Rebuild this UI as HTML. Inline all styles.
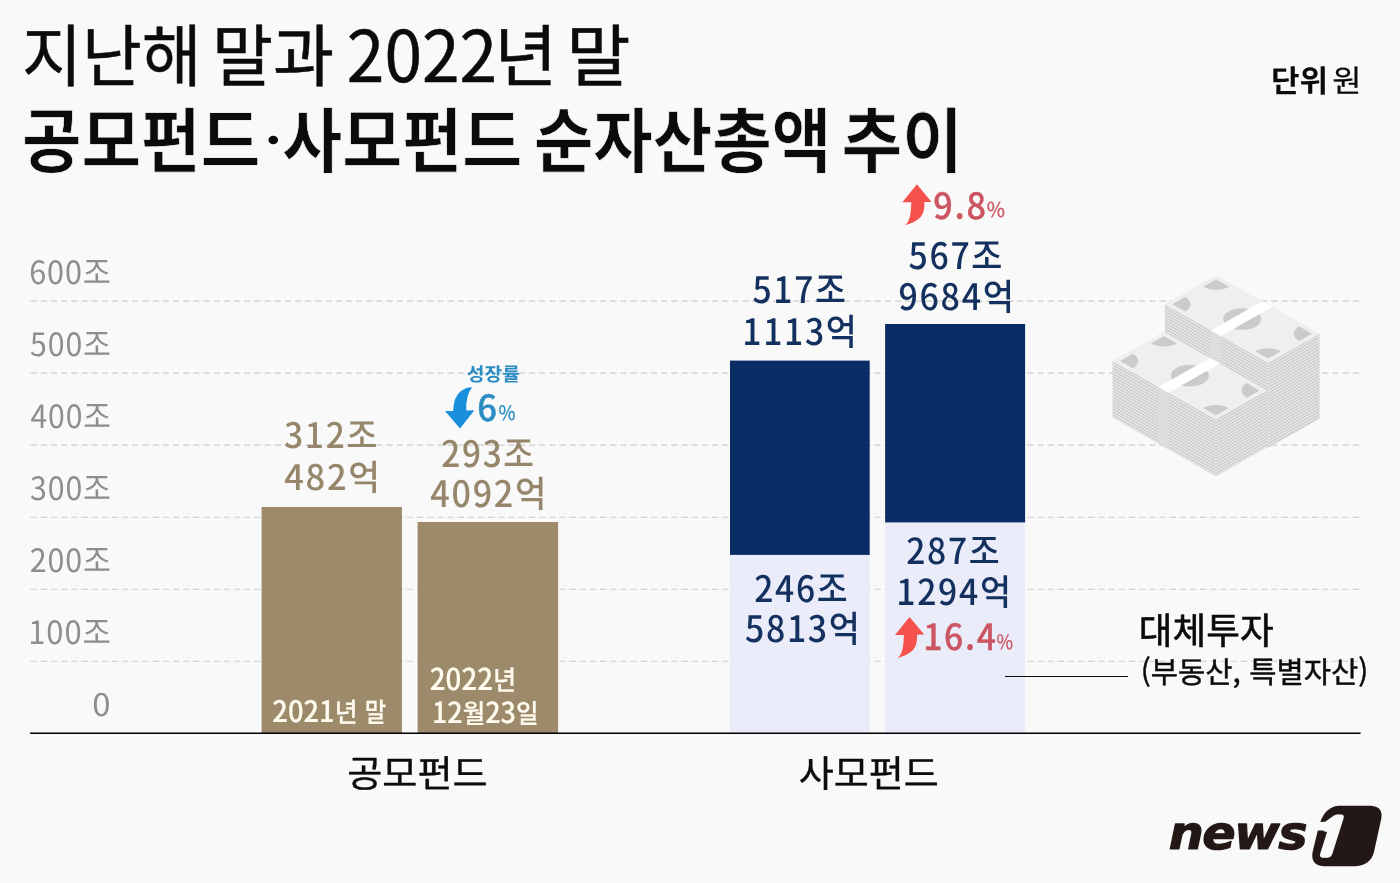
<!DOCTYPE html>
<html lang="ko"><head><meta charset="utf-8"><title>공모펀드·사모펀드 순자산총액 추이</title>
<style>
html,body{margin:0;padding:0;background:#f9f9f9;}
body{width:1400px;height:883px;overflow:hidden;font-family:"Liberation Sans","Noto Sans CJK KR",sans-serif;}
svg{display:block;}
</style></head><body>
<svg width="1400" height="883" viewBox="0 0 1400 883" role="img" aria-label="공모펀드·사모펀드 순자산총액 추이">
<line x1="30.5" y1="301.1" x2="1360" y2="301.1" stroke="#cdcdcd" stroke-width="1.1" stroke-dasharray="6.4 3.77"/>
<line x1="30.5" y1="373.1" x2="1360" y2="373.1" stroke="#cdcdcd" stroke-width="1.1" stroke-dasharray="6.4 3.77"/>
<line x1="30.5" y1="445.15" x2="1360" y2="445.15" stroke="#cdcdcd" stroke-width="1.1" stroke-dasharray="6.4 3.77"/>
<line x1="30.5" y1="517.2" x2="1360" y2="517.2" stroke="#cdcdcd" stroke-width="1.1" stroke-dasharray="6.4 3.77"/>
<line x1="30.5" y1="589.2" x2="1360" y2="589.2" stroke="#cdcdcd" stroke-width="1.1" stroke-dasharray="6.4 3.77"/>
<line x1="30.5" y1="661.2" x2="1360" y2="661.2" stroke="#cdcdcd" stroke-width="1.1" stroke-dasharray="6.4 3.77"/>
<defs><pattern id="stripe" width="8" height="2.95" patternUnits="userSpaceOnUse"><rect width="8" height="2.95" fill="#eeeeee"/><rect y="0.1" width="8" height="1.4" fill="#c3c3c3"/></pattern><clipPath id="inner"><rect x="4.4" y="4.4" width="111.2" height="51.2"/></clipPath></defs><g transform="matrix(0.8617 0.4883 0 1 1164.8 304.3)"><rect x="0" y="0" width="120" height="85" fill="url(#stripe)"/><rect x="53.5" y="0" width="11.5" height="85" fill="#dddddd"/></g><g transform="matrix(0.8567 -0.4867 0 1 1268.20 362.90)"><rect x="0" y="0" width="60" height="85" fill="url(#stripe)"/></g><g transform="matrix(0.8617 0.4883 0.8567 -0.4867 1164.8 304.3)"><rect x="0" y="0" width="120" height="60" fill="#efefef"/><g clip-path="url(#inner)" fill="#cbcbcb"><circle cx="4.4" cy="4.4" r="15"/><circle cx="115.6" cy="4.4" r="15"/><circle cx="4.4" cy="55.6" r="15"/><circle cx="115.6" cy="55.6" r="15"/><circle cx="60" cy="30" r="15.7"/></g><rect x="53.5" y="0" width="11.5" height="60" fill="#ffffff"/></g><g transform="matrix(0.8617 0.4883 0 1 1112.5 361.0)"><rect x="0" y="0" width="120" height="56.6" fill="url(#stripe)"/><rect x="53.5" y="0" width="11.5" height="56.6" fill="#dddddd"/></g><g transform="matrix(0.8567 -0.4867 0 1 1215.90 419.60)"><rect x="0" y="0" width="60" height="56.6" fill="url(#stripe)"/></g><g transform="matrix(0.8617 0.4883 0.8567 -0.4867 1112.5 361.0)"><rect x="0" y="0" width="120" height="60" fill="#efefef"/><g clip-path="url(#inner)" fill="#cbcbcb"><circle cx="4.4" cy="4.4" r="15"/><circle cx="115.6" cy="4.4" r="15"/><circle cx="4.4" cy="55.6" r="15"/><circle cx="115.6" cy="55.6" r="15"/><circle cx="60" cy="30" r="15.7"/></g><rect x="53.5" y="0" width="11.5" height="60" fill="#ffffff"/></g>
<rect x="261.6" y="507" width="140.3" height="226.3" fill="#9c8a6b"/>
<rect x="417.6" y="522" width="140.5" height="211.3" fill="#9c8a6b"/>
<rect x="730" y="554.5" width="139.7" height="178.8" fill="#eaecf9"/>
<rect x="730" y="360.6" width="139.7" height="194.3" fill="#0a2d66"/>
<rect x="885.1" y="522" width="140" height="211.3" fill="#eaecf9"/>
<rect x="885.1" y="324" width="140" height="198.4" fill="#0a2d66"/>
<line x1="30.1" y1="733.3" x2="1360.6" y2="733.3" stroke="#000" stroke-width="1.4"/>
<line x1="1005" y1="676.55" x2="1127.9" y2="676.55" stroke="#0a0a0a" stroke-width="1.1"/>
<path fill="#f5514d" d="M916.9 184.3 L931.6 201.9 L924.4 202.1 C924.7 212.3 922.9 220.8 904.9 225.2 C909.9 221.3 910.9 214.3 911.3 202.2 L902.4 202.2 Z"/>
<path fill="#f5514d" d="M909.5 617.0 L924.2 634.6 L917.0 634.8 C917.3 645.0 915.5 653.5 897.5 657.9 C902.5 654.0 903.5 647.0 903.9 634.9 L895.0 634.9 Z"/>
<path fill="#1a90dc" d="M460 428.5 L445 411 L453.2 411 Q453.5 391.5 468.3 387.5 L472 387.3 Q465.5 396 466.3 410.5 L474.4 410.3 Z"/>
<path fill="#231815" d="M1338.5 805.7 L1371 805.7 Q1383.5 806.5 1381.2 819 L1374 852 Q1370.5 865.5 1355.5 866.2 L1323.5 866.2 Q1310.5 865 1312.5 852.5 L1317.8 830.5 L1327.5 830.5 L1329.5 821.5 L1320.3 822 Q1325.5 807 1338.5 805.7 Z"/>
<text transform="translate(22.00 81.00) scale(0.9588 1)" font-size="67.95" fill="#0b0b0b" font-family='"Noto Sans CJK KR","Liberation Sans",sans-serif' font-weight="400" text-rendering="geometricPrecision" stroke="#0b0b0b" stroke-width="0.5" stroke-linejoin="round">지난해</text>
<text transform="translate(211.90 81.00) scale(0.9770 1)" font-size="67.95" fill="#0b0b0b" font-family='"Noto Sans CJK KR","Liberation Sans",sans-serif' font-weight="400" text-rendering="geometricPrecision" stroke="#0b0b0b" stroke-width="0.5" stroke-linejoin="round">말과</text>
<text transform="translate(494.35 81.00) scale(1.0082 1)" font-size="67.95" fill="#0b0b0b" font-family='"Noto Sans CJK KR","Liberation Sans",sans-serif' font-weight="400" text-rendering="geometricPrecision" stroke="#0b0b0b" stroke-width="0.5" stroke-linejoin="round">년</text>
<text transform="translate(566.35 81.00) scale(1.0283 1)" font-size="67.95" fill="#0b0b0b" font-family='"Noto Sans CJK KR","Liberation Sans",sans-serif' font-weight="400" text-rendering="geometricPrecision" stroke="#0b0b0b" stroke-width="0.5" stroke-linejoin="round">말</text>
<text transform="translate(346.80 81.65) scale(0.9529 1)" font-size="71.09" fill="#0b0b0b" font-family='"Noto Sans CJK KR","Liberation Sans",sans-serif' font-weight="400" text-rendering="geometricPrecision" stroke="#0b0b0b" stroke-width="0.5" stroke-linejoin="round">2022</text>
<text transform="translate(22.00 167.20) scale(0.9075 1)" font-size="71.34" fill="#0b0b0b" font-family='"Noto Sans CJK KR","Liberation Sans",sans-serif' font-weight="700" text-rendering="geometricPrecision" stroke="#f9f9f9" stroke-width="0.7" stroke-linejoin="round">공모펀드</text>
<text transform="translate(282.30 167.20) scale(0.9144 1)" font-size="71.34" fill="#0b0b0b" font-family='"Noto Sans CJK KR","Liberation Sans",sans-serif' font-weight="700" text-rendering="geometricPrecision" stroke="#f9f9f9" stroke-width="0.7" stroke-linejoin="round">사모펀드</text>
<text transform="translate(533.90 167.20) scale(0.9061 1)" font-size="71.34" fill="#0b0b0b" font-family='"Noto Sans CJK KR","Liberation Sans",sans-serif' font-weight="700" text-rendering="geometricPrecision" stroke="#f9f9f9" stroke-width="0.7" stroke-linejoin="round">순자산총액</text>
<text transform="translate(841.60 167.20) scale(0.9244 1)" font-size="71.34" fill="#0b0b0b" font-family='"Noto Sans CJK KR","Liberation Sans",sans-serif' font-weight="700" text-rendering="geometricPrecision" stroke="#f9f9f9" stroke-width="0.7" stroke-linejoin="round">추이</text>
<text transform="translate(264.85 156.65) scale(1.1663 1)" font-size="44.83" fill="#0b0b0b" font-family='"Noto Sans CJK KR","Liberation Sans",sans-serif' font-weight="700" text-rendering="geometricPrecision">·</text>
<text transform="translate(1270.95 91.95) scale(1.0049 1)" font-size="30.87" fill="#0b0b0b" font-family='"Noto Sans CJK KR","Liberation Sans",sans-serif' font-weight="700" text-rendering="geometricPrecision">단위</text>
<text transform="translate(1332.35 91.95) scale(1.0271 1)" font-size="30.87" fill="#0b0b0b" font-family='"Noto Sans CJK KR","Liberation Sans",sans-serif' font-weight="400" text-rendering="geometricPrecision" stroke="#0b0b0b" stroke-width="0.25" stroke-linejoin="round">원</text>
<text transform="translate(29.25 284.00) scale(0.9529 1)" font-size="32.07" fill="#8e8e8e" font-family='"Noto Sans CJK KR","Liberation Sans",sans-serif' font-weight="400" text-rendering="geometricPrecision" letter-spacing="0.03em">600조</text>
<text transform="translate(30.00 356.00) scale(0.9437 1)" font-size="32.07" fill="#8e8e8e" font-family='"Noto Sans CJK KR","Liberation Sans",sans-serif' font-weight="400" text-rendering="geometricPrecision" letter-spacing="0.03em">500조</text>
<text transform="translate(30.50 428.00) scale(0.9392 1)" font-size="32.07" fill="#8e8e8e" font-family='"Noto Sans CJK KR","Liberation Sans",sans-serif' font-weight="400" text-rendering="geometricPrecision" letter-spacing="0.03em">400조</text>
<text transform="translate(30.00 500.00) scale(0.9437 1)" font-size="32.07" fill="#8e8e8e" font-family='"Noto Sans CJK KR","Liberation Sans",sans-serif' font-weight="400" text-rendering="geometricPrecision" letter-spacing="0.03em">300조</text>
<text transform="translate(29.75 572.00) scale(0.9483 1)" font-size="32.07" fill="#8e8e8e" font-family='"Noto Sans CJK KR","Liberation Sans",sans-serif' font-weight="400" text-rendering="geometricPrecision" letter-spacing="0.03em">200조</text>
<text transform="translate(28.25 644.00) scale(0.9647 1)" font-size="32.07" fill="#8e8e8e" font-family='"Noto Sans CJK KR","Liberation Sans",sans-serif' font-weight="400" text-rendering="geometricPrecision" letter-spacing="0.03em">100조</text>
<text transform="translate(92.25 716.25) scale(1.0583 1)" font-size="31.07" fill="#8e8e8e" font-family='"Noto Sans CJK KR","Liberation Sans",sans-serif' font-weight="400" text-rendering="geometricPrecision">0</text>
<text transform="translate(284.00 448.25) scale(0.9570 1)" font-size="35.12" fill="#96876c" font-family='"Noto Sans CJK KR","Liberation Sans",sans-serif' font-weight="500" text-rendering="geometricPrecision" letter-spacing="0.05em">312조</text>
<text transform="translate(284.25 489.50) scale(0.9811 1)" font-size="35.12" fill="#96876c" font-family='"Noto Sans CJK KR","Liberation Sans",sans-serif' font-weight="500" text-rendering="geometricPrecision" letter-spacing="0.05em">482억</text>
<text transform="translate(441.25 466.50) scale(0.9173 1)" font-size="36.42" fill="#96876c" font-family='"Noto Sans CJK KR","Liberation Sans",sans-serif' font-weight="500" text-rendering="geometricPrecision" letter-spacing="0.05em">293조</text>
<text transform="translate(430.25 507.00) scale(0.9389 1)" font-size="36.42" fill="#96876c" font-family='"Noto Sans CJK KR","Liberation Sans",sans-serif' font-weight="500" text-rendering="geometricPrecision" letter-spacing="0.05em">4092억</text>
<text transform="translate(752.50 303.30) scale(0.9239 1)" font-size="36.36" fill="#13305f" font-family='"Noto Sans CJK KR","Liberation Sans",sans-serif' font-weight="500" text-rendering="geometricPrecision" letter-spacing="0.05em">517조</text>
<text transform="translate(742.25 345.00) scale(0.9266 1)" font-size="36.36" fill="#13305f" font-family='"Noto Sans CJK KR","Liberation Sans",sans-serif' font-weight="500" text-rendering="geometricPrecision" letter-spacing="0.05em">1113억</text>
<text transform="translate(908.50 268.50) scale(0.9279 1)" font-size="36.42" fill="#13305f" font-family='"Noto Sans CJK KR","Liberation Sans",sans-serif' font-weight="500" text-rendering="geometricPrecision" letter-spacing="0.05em">567조</text>
<text transform="translate(898.50 310.00) scale(0.9322 1)" font-size="36.42" fill="#13305f" font-family='"Noto Sans CJK KR","Liberation Sans",sans-serif' font-weight="500" text-rendering="geometricPrecision" letter-spacing="0.05em">9684억</text>
<text transform="translate(754.25 601.50) scale(0.9224 1)" font-size="36.42" fill="#13305f" font-family='"Noto Sans CJK KR","Liberation Sans",sans-serif' font-weight="500" text-rendering="geometricPrecision" letter-spacing="0.05em">246조</text>
<text transform="translate(745.00 642.00) scale(0.9283 1)" font-size="36.42" fill="#13305f" font-family='"Noto Sans CJK KR","Liberation Sans",sans-serif' font-weight="500" text-rendering="geometricPrecision" letter-spacing="0.05em">5813억</text>
<text transform="translate(906.25 564.00) scale(0.9392 1)" font-size="35.77" fill="#13305f" font-family='"Noto Sans CJK KR","Liberation Sans",sans-serif' font-weight="500" text-rendering="geometricPrecision" letter-spacing="0.05em">287조</text>
<text transform="translate(896.25 605.00) scale(0.9432 1)" font-size="35.77" fill="#13305f" font-family='"Noto Sans CJK KR","Liberation Sans",sans-serif' font-weight="500" text-rendering="geometricPrecision" letter-spacing="0.05em">1294억</text>
<text transform="translate(272.30 721.95) scale(0.9277 1)" font-size="26.83" fill="#fffbee" font-family='"Noto Sans CJK KR","Liberation Sans",sans-serif' font-weight="500" text-rendering="geometricPrecision" stroke="#fffbee" stroke-width="0.2" stroke-linejoin="round"><tspan font-size="110%">2021</tspan>년</text>
<text transform="translate(364.75 721.95) scale(0.8683 1)" font-size="26.83" fill="#fffbee" font-family='"Noto Sans CJK KR","Liberation Sans",sans-serif' font-weight="500" text-rendering="geometricPrecision" stroke="#fffbee" stroke-width="0.2" stroke-linejoin="round">말</text>
<text transform="translate(429.80 690.35) scale(0.9256 1)" font-size="27.22" fill="#fffbee" font-family='"Noto Sans CJK KR","Liberation Sans",sans-serif' font-weight="500" text-rendering="geometricPrecision" stroke="#fffbee" stroke-width="0.2" stroke-linejoin="round"><tspan font-size="110%">2022</tspan>년</text>
<text transform="translate(431.95 723.30) scale(0.9296 1)" font-size="26.37" fill="#fffbee" font-family='"Noto Sans CJK KR","Liberation Sans",sans-serif' font-weight="500" text-rendering="geometricPrecision" stroke="#fffbee" stroke-width="0.2" stroke-linejoin="round"><tspan font-size="110%">12</tspan>월<tspan font-size="110%">23</tspan>일</text>
<text transform="translate(466.75 380.75) scale(1.0178 1)" font-size="18.92" fill="#2b8cc4" font-family='"Noto Sans CJK KR","Liberation Sans",sans-serif' font-weight="700" text-rendering="geometricPrecision">성장률</text>
<text transform="translate(477.25 421.25) scale(0.9577 1)" font-size="36.13" fill="#2b8cc4" font-family='"Noto Sans CJK KR","Liberation Sans",sans-serif' font-weight="500" text-rendering="geometricPrecision" stroke="#2b8cc4" stroke-width="0.4" stroke-linejoin="round">6</text>
<text transform="translate(498.50 420.10) scale(0.9250 1)" font-size="20.04" fill="#2b8cc4" font-family='"Noto Sans CJK KR","Liberation Sans",sans-serif' font-weight="400" text-rendering="geometricPrecision" stroke="#2b8cc4" stroke-width="0.3" stroke-linejoin="round">%</text>
<text transform="translate(933.35 218.75) scale(0.9485 1)" font-size="36.13" fill="#cb5562" font-family='"Noto Sans CJK KR","Liberation Sans",sans-serif' font-weight="500" text-rendering="geometricPrecision" letter-spacing="0.05em" stroke="#cb5562" stroke-width="0.35" stroke-linejoin="round">9.8</text>
<text transform="translate(986.75 217.00) scale(0.9646 1)" font-size="20.49" fill="#cb5562" font-family='"Noto Sans CJK KR","Liberation Sans",sans-serif' font-weight="400" text-rendering="geometricPrecision" stroke="#cb5562" stroke-width="0.3" stroke-linejoin="round">%</text>
<text transform="translate(923.25 650.25) scale(0.9316 1)" font-size="36.13" fill="#cb5562" font-family='"Noto Sans CJK KR","Liberation Sans",sans-serif' font-weight="500" text-rendering="geometricPrecision" letter-spacing="0.05em" stroke="#cb5562" stroke-width="0.35" stroke-linejoin="round">16.4</text>
<text transform="translate(996.50 649.00) scale(0.9044 1)" font-size="19.84" fill="#cb5562" font-family='"Noto Sans CJK KR","Liberation Sans",sans-serif' font-weight="400" text-rendering="geometricPrecision" stroke="#cb5562" stroke-width="0.3" stroke-linejoin="round">%</text>
<text transform="translate(347.25 787.00) scale(1.0249 1)" font-size="37.26" fill="#0b0b0b" font-family='"Noto Sans CJK KR","Liberation Sans",sans-serif' font-weight="400" text-rendering="geometricPrecision" stroke="#0b0b0b" stroke-width="0.4" stroke-linejoin="round">공모펀드</text>
<text transform="translate(798.75 787.00) scale(1.0213 1)" font-size="37.26" fill="#0b0b0b" font-family='"Noto Sans CJK KR","Liberation Sans",sans-serif' font-weight="400" text-rendering="geometricPrecision" stroke="#0b0b0b" stroke-width="0.4" stroke-linejoin="round">사모펀드</text>
<text transform="translate(1138.85 644.15) scale(0.9945 1)" font-size="36.84" fill="#0b0b0b" font-family='"Noto Sans CJK KR","Liberation Sans",sans-serif' font-weight="400" text-rendering="geometricPrecision" stroke="#0b0b0b" stroke-width="0.6" stroke-linejoin="round">대체투자</text>
<text transform="translate(1140.80 683.05) scale(0.9851 1)" font-size="30.08" fill="#0b0b0b" font-family='"Noto Sans CJK KR","Liberation Sans",sans-serif' font-weight="400" text-rendering="geometricPrecision" stroke="#0b0b0b" stroke-width="0.45" stroke-linejoin="round">(부동산, 특별자산)</text>
<text transform="translate(1168.70 849.35) scale(1.0753 1)" font-size="45.78" fill="#231815" font-family='"DejaVu Sans","Liberation Sans",sans-serif' font-weight="700" text-rendering="geometricPrecision" font-style="italic" letter-spacing="-0.03em" stroke="#231815" stroke-width="1.2" stroke-linejoin="round">news</text>
<text transform="translate(1309.50 855.00) scale(1.0310 1) skewX(-17)" font-size="49.20" fill="#f9f9f9" font-family='"NanumGothic","Liberation Sans",sans-serif' font-weight="800" text-rendering="geometricPrecision" stroke="#f9f9f9" stroke-width="5.0" stroke-linejoin="round">1</text>

</svg>
</body></html>
